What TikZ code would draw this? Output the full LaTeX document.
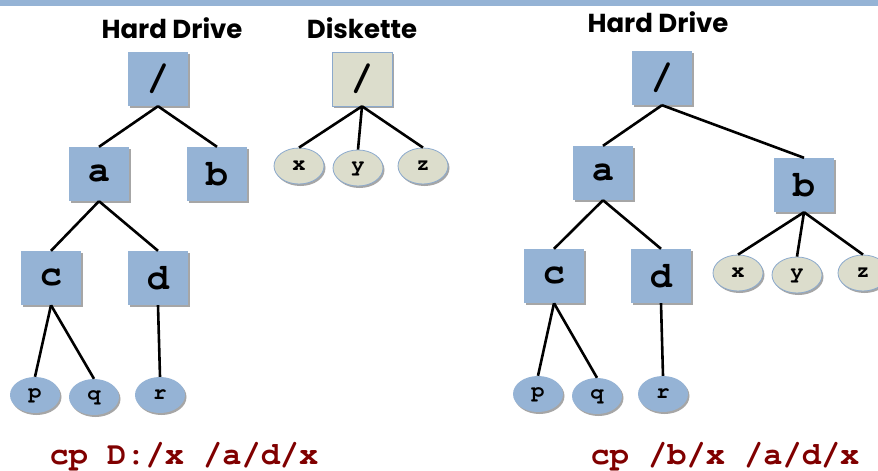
\documentclass[tikz,border=0pt]{standalone}
\usepackage[T1]{fontenc}
\usepackage{fontspec}
\usetikzlibrary{shapes.geometric,shadows}
\newfontfamily\titlefont{Poppins}[UprightFont=* Bold]
% bold Courier through NFSS
\newcommand\courbold{\fontencoding{T1}\fontfamily{pcr}\fontseries{b}\fontshape{n}\selectfont}
\definecolor{dirblue}{HTML}{95B3D5}
\definecolor{diskgray}{HTML}{DCDDCC}
\definecolor{rimblue}{HTML}{8BA9CC}
\definecolor{cmdred}{HTML}{800000}
\tikzset{
  dirbox/.style={rectangle, minimum width=60pt, minimum height=54pt, inner sep=0pt,
    fill=dirblue, font=\courbold\fontsize{37}{37}\selectfont,
    drop shadow={shadow xshift=1.5pt, shadow yshift=-2pt, opacity=0.35, fill=black}},
  diskbox/.style={dirbox, fill=diskgray, draw=rimblue, line width=0.5pt},
  fileov/.style={ellipse, minimum width=50pt, minimum height=36pt, inner sep=0pt,
    fill=dirblue, font=\courbold\fontsize{22}{22}\selectfont,
    drop shadow={shadow xshift=1.5pt, shadow yshift=-2pt, opacity=0.35, fill=black}},
  diskov/.style={fileov, fill=diskgray, draw=rimblue, line width=0.8pt},
  title/.style={font=\titlefont\fontsize{26}{26}\selectfont, inner sep=0pt},
  cmd/.style={font=\courbold\fontsize{32}{32}\selectfont, text=cmdred, inner sep=0pt},
  link/.style={line width=2.6pt, black}
}
\begin{document}
\begin{tikzpicture}[x=1pt, y=-1pt]
\useasboundingbox (0,0) rectangle (878,471);
% header band
\fill[dirblue] (0,0) rectangle (878,6);

% ---- hard drive before the copy ----
\node[title] (t1) at (172,28) {Hard Drive};
\node[dirbox] (r1) at (158,79) {/};
\node[dirbox] (a1) at (99,174) {a};
\node[dirbox] (b1) at (217,174) {b};
\node[dirbox] (c1) at (51,278) {c};
\node[dirbox] (d1) at (158,278) {d};
\node[fileov] (p1) at (35,395) {p};
\node[fileov] (q1) at (94,397) {q};
\node[fileov] (s1) at (160,395) {r};
\draw[link] (r1.south) -- (a1.north);
\draw[link] (r1.south) -- (b1.north);
\draw[link] (a1.south) -- (c1.north);
\draw[link] (a1.south) -- (d1.north);
\draw[link] (c1.south) -- (p1.north);
\draw[link] (c1.south) -- (q1.north);
\draw[link] (d1.south) -- (s1.north);

% ---- diskette ----
\node[title] (t2) at (362,28) {Diskette};
\node[diskbox] (r2) at (362,79) {/};
\node[diskov] (x2) at (299,166) {x};
\node[diskov] (y2) at (358,168) {y};
\node[diskov] (z2) at (423,166) {z};
\draw[link] (r2.south) -- (x2.north);
\draw[link] (r2.south) -- (y2.north);
\draw[link] (r2.south) -- (z2.north);

\node[cmd] (k1) at (184,457) {cp D:/x /a/d/x};

% ---- hard drive after the copy ----
\node[title] (t3) at (658,22) {Hard Drive};
\node[dirbox] (r3) at (662,78) {/};
\node[dirbox] (a3) at (603,173) {a};
\node[dirbox] (b3) at (804,185) {b};
\node[dirbox] (c3) at (554,276) {c};
\node[dirbox] (d3) at (661,276) {d};
\node[fileov] (p3) at (538,394) {p};
\node[fileov] (q3) at (597,396) {q};
\node[fileov] (s3) at (663,394) {r};
\node[diskov] (x3) at (738,273) {x};
\node[diskov] (y3) at (797,275) {y};
\node[diskov] (z3) at (863,273) {z};
\draw[link] (r3.south) -- (a3.north);
\draw[link] (r3.south) -- (b3.north);
\draw[link] (a3.south) -- (c3.north);
\draw[link] (a3.south) -- (d3.north);
\draw[link] (c3.south) -- (p3.north);
\draw[link] (c3.south) -- (q3.north);
\draw[link] (d3.south) -- (s3.north);
\draw[link] (b3.south) -- (x3.north);
\draw[link] (b3.south) -- (y3.north);
\draw[link] (b3.south) -- (z3.north);

\node[cmd] (k3) at (725,457) {cp /b/x /a/d/x};
\end{tikzpicture}
\end{document}
